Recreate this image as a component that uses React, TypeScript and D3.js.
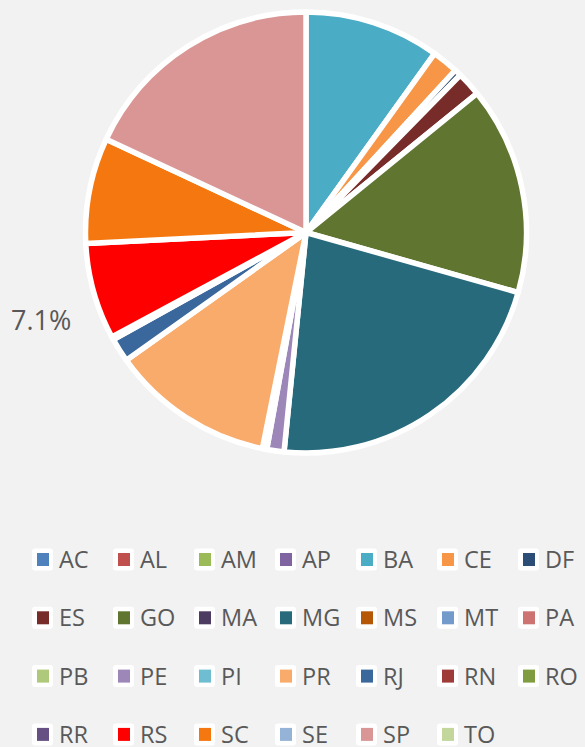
import React from "react";
import * as d3 from "d3";

const states = ["AC","AL","AM","AP","BA","CE","DF","ES","GO","MA","MG","MS","MT","PA","PB","PE","PI","PR","RJ","RN","RO","RR","RS","SC","SE","SP","TO"];
const shares = [0,0,0,0,9.92,1.92,0.5,1.8,15.25,0,22.2,0,0,0,0,1.26,0.32,12.0,1.75,0.22,0,0,7.06,7.75,0,18.05,0];
const colors = ["#4F81BD","#C0504D","#9BBB59","#8064A2","#4BACC6","#F79646","#2C4D75","#772C2A","#5F7530","#4D3B62","#276A7C","#B65708","#729ACA","#CD7371","#AFC97A","#9D87B9","#6FBDD1","#F9AB6B","#3A679C","#9E3B38","#7F9D40","#664F82","#FF0000","#F5770F","#95B3D7","#D99694","#C3D69B"];
const labelText = "7.1%";

const W = 585, H = 747;
const cx = 306, cy = 232.5, R = 220.5;
const FONT = "'Open Sans', 'Liberation Sans', Arial, sans-serif";

export default function App() {
  const pie = d3.pie<number>().sort(null).value((d) => d)(shares);
  const arc = d3.arc<d3.PieArcDatum<number>>().innerRadius(0).outerRadius(R);
  const cols = 7;
  const colX = d3.scaleLinear().domain([0, 1]).range([32, 113]);
  const rowY = d3.scaleLinear().domain([0, 1]).range([559.5, 617.8]);
  return (
    <svg width={W} height={H} style={{ position: "absolute", left: 0, top: 0, background: "#F2F2F2" }}>
      <rect x={0} y={0} width={W} height={H} fill="#F2F2F2" />
      <g transform={`translate(${cx},${cy})`}>
        {pie.map((p, i) =>
          p.value > 0 ? (
            <path key={i} d={arc(p) || ""} fill={colors[i]} stroke="#FFFFFF" strokeWidth={5.5} strokeLinejoin="round" />
          ) : null
        )}
      </g>
      <text x={11} y={330} fontFamily={FONT} fontSize={27} fill="#595959">{labelText}</text>
      {states.map((s, i) => {
        const c = i % cols, r = Math.floor(i / cols);
        const x = colX(c), y = rowY(r);
        return (
          <g key={s}>
            <rect x={x} y={y - 11} width={21} height={22} rx={3} fill="#FFFFFF" />
            <rect x={x + 5} y={y - 6.5} width={12} height={13} fill={colors[i]} />
            <text x={x + 27} y={y + 8.5} fontFamily={FONT} fontSize={23.5} fill="#595959">{s}</text>
          </g>
        );
      })}
    </svg>
  );
}
